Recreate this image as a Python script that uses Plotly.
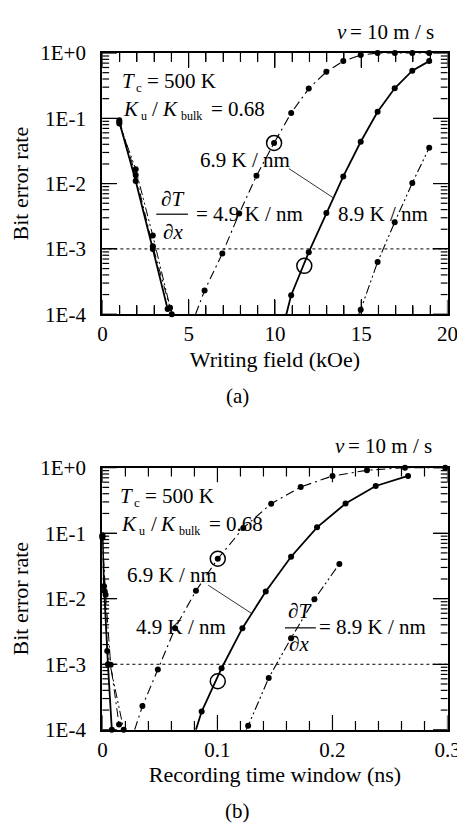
import math
import plotly.graph_objects as go

W, H = 465, 828
FONT = "Liberation Serif"

# ---------------- data: panel (a) writing field (kOe) ----------------
a_A_x = [5.92, 6.95, 7.93, 8.93, 9.95, 10.94, 11.96, 12.98, 13.96, 14.97, 15.95, 16.95, 17.96, 18.94]
a_A_y = [2.3e-4, 8.5e-4, 3.5e-3, 0.0132, 0.042, 0.121, 0.285, 0.516, 0.752, 0.93, 1.0, 1.0, 1.0, 1.0]
a_A_start = (5.4, 1e-4)

a_B_x = [10.94, 11.96, 12.98, 13.96, 14.97, 15.95, 16.94, 17.96, 18.94]
a_B_y = [1.95e-4, 8.9e-4, 3.55e-3, 0.0129, 0.0437, 0.126, 0.288, 0.537, 0.752]
a_B_start = (10.66, 1e-4)

a_C_x = [14.97, 15.95, 16.94, 17.96, 18.94]
a_C_y = [1.17e-4, 6.3e-4, 2.57e-3, 0.0102, 0.0355]
a_C_start = (14.85, 1e-4)

a_L1_x = [0.98, 1.93, 2.92, 3.78]
a_L1_y = [0.088, 0.011, 1.0e-3, 1.2e-4]
a_L2_x = [0.98, 1.93, 2.92, 3.92]
a_L2_y = [0.093, 0.0135, 1.1e-3, 1.26e-4]
a_L3_x = [0.98, 1.93, 2.92, 4.02]
a_L3_y = [0.083, 0.0166, 1.6e-3, 1.0e-4]

a_circ_x = [9.95, 11.7]
a_circ_y = [0.042, 5.5e-4]

# ---------------- data: panel (b) recording time window (ns) ----------------
b_A_x = [0.0348, 0.0482, 0.0632, 0.0813, 0.1003, 0.1225, 0.1467, 0.1724, 0.2, 0.23, 0.263, 0.298]
b_A_y = [2.3e-4, 8.3e-4, 3.55e-3, 0.0132, 0.0407, 0.12, 0.282, 0.506, 0.746, 0.912, 1.0, 1.0]
b_A_start = (0.028, 1e-4)

b_B_x = [0.0863, 0.1036, 0.1217, 0.142, 0.164, 0.1866, 0.2114, 0.2376, 0.2657]
b_B_y = [1.9e-4, 8.7e-4, 3.55e-3, 0.0129, 0.0437, 0.123, 0.283, 0.525, 0.746]
b_B_start = (0.0813, 1e-4)

b_C_x = [0.1267, 0.1446, 0.164, 0.1843, 0.206]
b_C_y = [1.15e-4, 6.2e-4, 2.5e-3, 9.8e-3, 0.034]
b_C_start = (0.125, 1e-4)

b_L1_x = [0.0, 0.0014, 0.0048, 0.0082]
b_L1_y = [0.093, 0.0155, 1.0e-3, 1.0e-4]
b_L2_x = [0.0, 0.0028, 0.0072, 0.0145]
b_L2_y = [0.085, 0.0115, 9.8e-4, 1.2e-4]
b_L3_x = [0.0, 0.002, 0.0042, 0.0185]
b_L3_y = [0.09, 0.013, 1.6e-3, 1.0e-4]

b_circ_x = [0.1003, 0.1003]
b_circ_y = [0.0407, 5.5e-4]

threshold = 1e-3
NB = "\u00a0\u00a0"
y_label_alias = {"1": "1E+0" + NB, "0.1": "1E-1" + NB, "0.01": "1E-2" + NB,
                 "0.001": "1E-3" + NB, "0.0001": "1E-4" + NB}

# ---------------- layout helpers ----------------
def px(xp):
    return xp / W

def py(yp):
    return 1 - yp / H

DASHDOT = "9px,4px,2px,4px"
DASHDOTDOT = "9px,3px,2px,3px,2px,3px"

fig = go.Figure()

def add_curve(xs, ys, start, dash, width, xa, ya):
    lx = ([start[0]] if start else []) + list(xs)
    ly = ([start[1]] if start else []) + list(ys)
    fig.add_trace(go.Scatter(x=lx, y=ly, mode="lines", xaxis=xa, yaxis=ya,
                             line=dict(color="black", width=width, dash=dash),
                             showlegend=False, hoverinfo="skip"))
    fig.add_trace(go.Scatter(x=xs, y=ys, mode="markers", xaxis=xa, yaxis=ya,
                             marker=dict(color="black", size=6),
                             cliponaxis=False, showlegend=False))

for xa, ya, data in [
    ("x", "y", [(a_A_x, a_A_y, a_A_start, DASHDOT, 1.1),
                (a_B_x, a_B_y, a_B_start, "solid", 1.8),
                (a_C_x, a_C_y, a_C_start, DASHDOTDOT, 1.1),
                (a_L1_x, a_L1_y, None, "solid", 1.8),
                (a_L2_x, a_L2_y, None, DASHDOT, 1.0),
                (a_L3_x, a_L3_y, None, DASHDOTDOT, 1.0)]),
    ("x2", "y2", [(b_A_x, b_A_y, b_A_start, DASHDOT, 1.1),
                  (b_B_x, b_B_y, b_B_start, "solid", 1.8),
                  (b_C_x, b_C_y, b_C_start, DASHDOTDOT, 1.1),
                  (b_L1_x, b_L1_y, None, "solid", 1.8),
                  (b_L2_x, b_L2_y, None, DASHDOT, 1.0),
                  (b_L3_x, b_L3_y, None, DASHDOTDOT, 1.0)]),
]:
    for xs, ys, st, dash, w in data:
        add_curve(xs, ys, st, dash, w, xa, ya)

# threshold dotted lines
fig.add_trace(go.Scatter(x=[0, 20], y=[threshold, threshold], mode="lines", xaxis="x", yaxis="y",
                         line=dict(color="black", width=1, dash="dot"), showlegend=False))
fig.add_trace(go.Scatter(x=[0, 0.3], y=[threshold, threshold], mode="lines", xaxis="x2", yaxis="y2",
                         line=dict(color="black", width=1, dash="dot"), showlegend=False))

# open circles
for xs, ys, xa, ya in [(a_circ_x, a_circ_y, "x", "y"), (b_circ_x, b_circ_y, "x2", "y2")]:
    fig.add_trace(go.Scatter(x=xs, y=ys, mode="markers", xaxis=xa, yaxis=ya,
                             marker=dict(symbol="circle-open", size=15, color="black", line=dict(width=1.5)),
                             cliponaxis=False, showlegend=False))

XDOM = [93 / W, 452 / W]
YDOM_A = [py(303), py(34)]
YDOM_B = [py(731), py(461)]
PLOT_W = 359.0
PLOT_H = 269.0
minor_logs = [math.log10(m) + e for e in range(-4, 0) for m in range(2, 10)]

def xaxis_cfg(rng, dtick, mdtick, title, anchor):
    return dict(range=rng, dtick=dtick, ticks="inside", ticklen=15, tickwidth=1.2,
                tickcolor="black", showline=True, linecolor="black", linewidth=1.5, mirror="allticks",
                showgrid=False, zeroline=False, domain=XDOM, anchor=anchor,
                minor=dict(dtick=mdtick, ticks="inside", ticklen=9, tickwidth=1.2, tickcolor="black"),
                tickfont=dict(family=FONT, size=21, color="black"),
                title=dict(text=title, font=dict(family=FONT, size=22, color="black"), standoff=6))

def yaxis_cfg(domain, anchor):
    return dict(type="log", range=[-4, 0], dtick=1, exponentformat="none", labelalias=y_label_alias,
                ticks="inside", ticklen=15, tickwidth=1.2, tickcolor="black", showline=True, linecolor="black",
                linewidth=1.5, mirror="allticks", showgrid=False, zeroline=False, domain=domain, anchor=anchor,
                tickfont=dict(family=FONT, size=21, color="black"),
                title=dict(text="Bit error rate", font=dict(family=FONT, size=22, color="black"), standoff=14))

fig.update_layout(
    width=W, height=H, margin=dict(l=0, r=0, t=0, b=0),
    paper_bgcolor="white", plot_bgcolor="white", showlegend=False,
    font=dict(family=FONT, size=21, color="black"),
    xaxis=xaxis_cfg([0, 20], 5, 1, "Writing field (kOe)", "y"),
    yaxis=yaxis_cfg(YDOM_A, "x"),
    xaxis2=xaxis_cfg([0, 0.3], 0.1, 0.02, "Recording time window (ns)", "y2"),
    yaxis2=yaxis_cfg(YDOM_B, "x2"),
)

ann = []

def text(s, x, y, xanchor="left", size=21, italic=False):
    f = dict(family=FONT, size=size, color="black")
    if italic:
        f["style"] = "italic"
    ann.append(dict(text=s, x=px(x), y=py(y), xref="paper", yref="paper", xanchor=xanchor, yanchor="middle",
                    showarrow=False, font=f))

def params(dx, dy):
    text("v", 335 + dx, 12 + dy, italic=True)
    text("= 10 m / s", 348 + dx, 12 + dy)
    text("T", 111 + dx, 63 + dy, italic=True)
    text("c", 126 + dx, 70 + dy, size=13)
    text("= 500 K", 137 + dx, 63 + dy)
    text("K", 112 + dx, 92 + dy, italic=True)
    text("u", 131 + dx, 99 + dy, size=12)
    text("/", 143 + dx, 92 + dy)
    text("K", 153 + dx, 92 + dy, italic=True)
    text("bulk", 173 + dx, 99 + dy, size=12)
    text("= 0.68", 204 + dx, 92 + dy)

params(0, 0)
params(-2, 427)

# panel (a) gradient labels
text("6.9 K / nm", 192, 144)
text("∂T", 166, 184, "center", italic=True)
text("∂x", 166, 218, "center", italic=True)
text("= 4.9 K / nm", 188, 200)
text("8.9 K / nm", 336, 200)
text("(a)", 234, 387, "center")
# panel (b) gradient labels
text("6.9 K / nm", 117, 572)
text("4.9 K / nm", 126, 625)
text("∂T", 298, 609, "center", italic=True)
text("∂x", 298, 643, "center", italic=True)
text("= 8.9 K / nm", 316, 625)
text("(b)", 234, 815, "center")

fig.update_layout(annotations=ann)

shapes = []
def seg(x0, y0, x1, y1, w=1.0):
    shapes.append(dict(type="line", xref="paper", yref="paper", x0=px(x0), y0=py(y0), x1=px(x1), y1=py(y1),
                       line=dict(color="black", width=w)))

seg(287, 153, 333, 183, 0.8)
seg(149, 200, 182, 200, 1.2)
seg(203, 582, 248, 611, 0.8)
seg(283, 626, 315, 626, 1.2)

# inward tick marks on all four sides of each panel
TICK_LINE = dict(color="black", width=1.2)

def tick_shapes(xa, ya, xmax, step, ydom):
    n = int(round(xmax / step))
    for i in range(n + 1):
        v = i * step
        L = (15 if i % 5 == 0 else 9) / PLOT_H
        for y0, y1 in [(0, L), (1, 1 - L)]:
            shapes.append(dict(type="line", xref=xa, yref=ya + " domain", x0=v, x1=v, y0=y0, y1=y1,
                               line=TICK_LINE, layer="above"))
    ticks_y = [(float(e), True) for e in range(-4, 1)] + [(m, False) for m in minor_logs]
    for lv, major in ticks_y:
        yp = ydom[0] + (lv + 4) / 4 * (ydom[1] - ydom[0])
        L = (15 if major else 7) / PLOT_W
        for x0, x1 in [(0, L), (1, 1 - L)]:
            shapes.append(dict(type="line", xref=xa + " domain", yref="paper", x0=x0, x1=x1, y0=yp, y1=yp,
                               line=TICK_LINE, layer="above"))

tick_shapes("x", "y", 20, 1, YDOM_A)
tick_shapes("x2", "y2", 0.3, 0.02, YDOM_B)

fig.update_layout(shapes=shapes)

fig.write_html("out.html")
